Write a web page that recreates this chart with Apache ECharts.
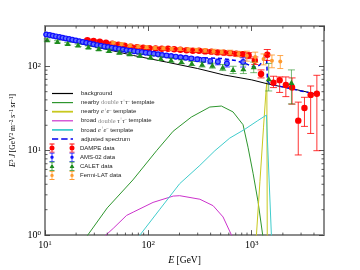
<!DOCTYPE html>
<html><head><meta charset="utf-8">
<script src="https://cdn.jsdelivr.net/npm/echarts@6/dist/echarts.min.js"></script>
<style>html,body{margin:0;padding:0;background:#fff}#c{width:360px;height:270px}</style>
</head><body><div id="c"></div><script>
// ---------- axis limits & ticks ----------
const X_MIN = 10, X_MAX = 5000, Y_MIN = 1, Y_MAX = 300;
const xMinor = [20,30,40,50,60,70,80,90,200,300,400,500,600,700,800,900,2000,3000,4000];
const yMinor = [2,3,4,5,6,7,8,9,20,30,40,50,60,70,80,90,200];

// ---------- model curves ----------
const bgE = [10, 20, 40, 72, 150, 300, 536, 1000, 1493, 2500, 4500];
const bgY = [228, 190, 158, 134, 112, 94, 79, 69, 61, 54, 46];

const nearTauE = [20, 25.9, 40, 70.8, 120, 173.6, 260, 393, 509, 659, 824, 920, 1030, 1150, 1276, 1400];
const nearTauY = [0.6, 1.0, 2.1, 4.5, 10, 17.0, 25, 32.9, 33.8, 28.8, 20.3, 11, 5.4, 2.5, 1.0, 0.3];

const nearEeE = [1050, 1110, 1200, 1300, 1380, 1400, 1412, 1430];
const nearEeY = [0.5, 1.0, 4.3, 19, 55, 64, 1.0, 0.5];

const broadTauE = [30, 38.8, 45.7, 61.5, 71.3, 111, 174, 201, 315, 423, 528, 637, 700];
const broadTauY = [0.6, 1.0, 1.2, 1.71, 1.87, 2.44, 2.9, 2.93, 2.66, 2.23, 1.64, 1.0, 0.75];

const broadEeE = [70, 82.8, 129, 201, 315, 440, 613, 855, 1143, 1387, 1549, 1600];
const broadEeY = [0.75, 1.0, 2.02, 4.07, 6.7, 10, 14.1, 17.9, 22.7, 26.4, 1.0, 0.5];

const adjE = [10, 20, 30, 50, 100, 200, 300, 500, 700, 900, 1000, 1100, 1200, 1300, 1387, 1420, 1500, 2000, 3000, 4500];
const adjY = [234, 194, 174, 154, 138, 129, 127, 124, 117, 106, 100, 97, 104, 118, 141, 67, 61, 57, 51, 46];

// ---------- data ----------
const dampeE = [25.7,29.5,33.9,38.9,44.7,51.3,58.9,67.6,77.6,89.1,102.3,117.5,134.9,154.9,177.8,204.2,234.4,269.2,309.0,354.8,407.4,467.7,537.0,616.6,707.9,812.8,933.3,1071,1230,1413,1622,1862,2138,2455,2818,3236,3715,4266];
const dampeY = [204,199,195,190,185,180,175,171,168,166,164,163,161,161,159,157,155,153,153,150,149,146,145,143,141,139,134,117,81,137,64,68.5,60,56,22.7,32,45.8,47.3];
const dampeLo = [198,193,189,184,179,174,169,165,162,160,158,157,155,155,153,151,149,147,146,143,142,139,137,135,132,129,123,105,72.8,117,55.9,49,43.7,35.6,8.9,19.4,16,10];
const dampeHi = [210,205,201,196,191,186,181,177,174,172,170,169,167,167,165,163,161,159,160,157,156,153,153,151,150,149,145,129,90.6,158,76.2,74.8,74.8,72.8,37.6,42.9,58.4,78.2];

const amsE = [10.3,11.1,11.9,12.8,13.8,14.8,15.9,17.1,18.4,19.9,21.5,23.2,25.1,27.2,29.5,32.0,34.7,37.6,40.8,44.3,48.1,52.2,56.7,61.6,67.0,72.8,79.3,86.5,94.4,103,113,124,136,150,166,184,205,230,260,297,341,397,470,575,825];
const amsY = [238,234,230,226,222,218,214,210,206,202,198,194,190,186,182,178,175,172,169,166,163,160,158,155,153,151,149,147,145,143,141,139,136,134,132,130,128,126,124,121,119,115,113,108,112];
const amsErr = [3,3,3,3,3,3,3,3,3,3,3,3,3,3,3,3,3,3,3,3,3,3,3,3,3,3,3.5,3.5,3.5,4,4,4,4,4.5,4.5,5,5,5.5,6,6.5,7,8,9,10,14];

const calE = [10.5,13.2,16.6,20.9,26.3,33.1,41.6,52.4,66,83,105,132,166,209,263,331,416,524,660,830,1045,1459,2421];
const calY = [205,195,185,177,168,160,153,146,140,134,128,123,118,113,108,105,102,97,91,93,98,70.5,63.8];
const calLo = [199,189,179,171,162,154,147,140,134,128,122,117,112,107,102,98,95,89,82,82,84,51,35.8];
const calHi = [211,201,191,183,174,166,159,152,146,140,134,129,124,119,114,112,109,105,100,104,112,108,90.6];

const fermiE = [45.7,55.1,66.3,79.8,96.2,115.9,139.6,168.2,202.5,243.9,293.8,353.9,426.6,513,618,745,897,1081,1301,1567,1888];
const fermiY = [190,183,176,172,168,165,163,161,160,158,156,154,151,148,146,140,133,129,122,116,114];
const fermiErr = [6,6,6,6,6,6,6,6,6,7,7,7,8,8,9,10,18,18,18,20,20];

// ---------- names ----------
const N_BG = 'background';
const N_NT = 'nearby double tau+tau- template';
const N_NE = 'nearby e+e- template';
const N_BT = 'broad double tau+tau- template';
const N_BE = 'broad e+e- template';
const N_ADJ = 'adjusted spectrum';
const N_D = 'DAMPE data', N_A = 'AMS-02 data', N_C = 'CALET data', N_F = 'Fermi-LAT data';
const TT = '{m|τ}{p|+}{m|τ}{p|–}';
const EE = '{m|e}{p|+}{m|e}{p|–}';
const legendText = {};
legendText[N_BG] = 'background';
legendText[N_NT] = 'nearby {d|double} ' + TT + ' template';
legendText[N_NE] = 'nearby ' + EE + ' template';
legendText[N_BT] = 'broad {d|double} ' + TT + ' template';
legendText[N_BE] = 'broad ' + EE + ' template';
legendText[N_ADJ] = 'adjusted spectrum';
legendText[N_D] = N_D; legendText[N_A] = N_A; legendText[N_C] = N_C; legendText[N_F] = N_F;

const zip = (a, b) => a.map((v, i) => [v, b[i]]);

function errSeries(name, E, Y, lo, hi, color, marker, r, cap, barColor, fillColor) {
  return {
    type: 'custom', name, z: 5, clip: false,
    itemStyle: { color },
    data: E.map((e, i) => [e, Y[i], lo[i], hi[i]]),
    encode: { x: 0, y: 1 },
    renderItem: function (params, api) {
      const e = api.value(0);
      const p = api.coord([e, api.value(1)]);
      const pl = api.coord([e, api.value(2)]);
      const ph = api.coord([e, api.value(3)]);
      const st = { stroke: barColor, lineWidth: 1 };
      const ch = [
        { type: 'line', shape: { x1: p[0], y1: pl[1], x2: p[0], y2: ph[1] }, style: st },
        { type: 'line', shape: { x1: p[0] - cap, y1: pl[1], x2: p[0] + cap, y2: pl[1] }, style: st },
        { type: 'line', shape: { x1: p[0] - cap, y1: ph[1], x2: p[0] + cap, y2: ph[1] }, style: st }
      ];
      if (marker === 'tri') {
        ch.push({ type: 'polygon', shape: { points: [[p[0], p[1] - r], [p[0] + r, p[1] + r * 0.75], [p[0] - r, p[1] + r * 0.75]] }, style: { fill: color } });
      } else if (marker === 'ring') {
        ch.push({ type: 'circle', shape: { cx: p[0], cy: p[1], r }, style: { fill: fillColor, stroke: color, lineWidth: 1.2 } });
      } else {
        ch.push({ type: 'circle', shape: { cx: p[0], cy: p[1], r }, style: { fill: color } });
      }
      return { type: 'group', children: ch };
    }
  };
}
const symErr = (Y, err, sign) => Y.map((v, i) => v + sign * err[i]);

function lineSeries(name, E, Y, color, width, type, z) {
  return {
    type: 'line', name, data: zip(E, Y), showSymbol: false, symbol: 'none',
    smooth: false, clip: true, z: z || 3, silent: true,
    lineStyle: { color, width, type: type || 'solid' }, itemStyle: { color }
  };
}

const tickStyle = { stroke: '#333', lineWidth: 0.8 };
const xTicks = {
  type: 'custom', silent: true, z: 10, clip: false,
  data: xMinor.map(v => [v, Y_MIN]), encode: { x: 0, y: 1 },
  renderItem: function (params, api) {
    const b = api.coord([api.value(0), Y_MIN]);
    const t = api.coord([api.value(0), Y_MAX]);
    return { type: 'group', children: [
      { type: 'line', shape: { x1: b[0], y1: b[1], x2: b[0], y2: b[1] - 2.5 }, style: tickStyle },
      { type: 'line', shape: { x1: t[0], y1: t[1], x2: t[0], y2: t[1] + 2.5 }, style: tickStyle }
    ]};
  }
};
const yTicks = {
  type: 'custom', silent: true, z: 10, clip: false,
  data: yMinor.map(v => [X_MIN, v]), encode: { x: 0, y: 1 },
  renderItem: function (params, api) {
    const l = api.coord([X_MIN, api.value(1)]);
    const r = api.coord([X_MAX, api.value(1)]);
    return { type: 'group', children: [
      { type: 'line', shape: { x1: l[0], y1: l[1], x2: l[0] + 2.5, y2: l[1] }, style: tickStyle },
      { type: 'line', shape: { x1: r[0], y1: r[1], x2: r[0] - 2.5, y2: r[1] }, style: tickStyle }
    ]};
  }
};

const SERIF = '"Liberation Serif", serif';
const SANS = '"Liberation Sans", Arial, sans-serif';
const supRich = {
  s: { fontSize: 7, fontFamily: SERIF, verticalAlign: 'top', color: '#000' },
  i: { fontStyle: 'italic', fontFamily: SERIF, fontSize: 10, color: '#000' }
};
const ySupRich = {
  s: { fontSize: 5.5, fontFamily: SERIF, verticalAlign: 'top', color: '#000' },
  i: { fontStyle: 'italic', fontFamily: SERIF, fontSize: 8, color: '#000' }
};
const powLabel = v => '10{s|' + Math.round(Math.log10(v)) + '}';
const axisLineStyle = { color: '#8c8c8c', width: 2 };
const majorTick = { inside: true, length: 5, lineStyle: { color: '#333', width: 0.8 } };

function xAx(pos, main) {
  return {
    type: 'log', logBase: 10, min: X_MIN, max: X_MAX, position: pos, gridIndex: 0,
    axisLine: { show: true, onZero: false, lineStyle: axisLineStyle },
    axisTick: majorTick, splitLine: { show: false }, minorTick: { show: false },
    axisLabel: main ? { show: true, formatter: powLabel, margin: 5, showMaxLabel: false, showMinLabel: true,
      fontFamily: SERIF, fontSize: 10, color: '#000', rich: supRich } : { show: false },
    name: main ? '{i|E} [GeV]' : '', nameLocation: 'middle', nameGap: 16,
    nameTextStyle: { fontFamily: SERIF, fontSize: 9.5, color: '#000', rich: supRich }
  };
}
function yAx(pos, main) {
  return {
    type: 'log', logBase: 10, min: Y_MIN, max: Y_MAX, position: pos, gridIndex: 0,
    axisLine: { show: true, onZero: false, lineStyle: axisLineStyle },
    axisTick: majorTick, splitLine: { show: false }, minorTick: { show: false },
    axisLabel: main ? { show: true, formatter: powLabel, margin: 4, showMaxLabel: false, showMinLabel: true,
      fontFamily: SERIF, fontSize: 10, color: '#000', rich: supRich } : { show: false },
    name: main ? '{i|E}{s|3} {i|J} [GeV{s|2} m{s|–2} s{s|–1} sr{s|–1}]' : '',
    nameLocation: 'middle', nameGap: 14,
    nameTextStyle: { fontFamily: SERIF, fontSize: 7.5, color: '#000', rich: ySupRich }
  };
}

const legRich = {
  d: { fontFamily: SERIF, fontSize: 6.5, color: '#888' },
  m: { fontFamily: SERIF, fontStyle: 'italic', fontSize: 6.5, color: '#333' },
  p: { fontFamily: SERIF, fontSize: 4.5, color: '#333', verticalAlign: 'top' }
};
function ebIcon(shape) {
  // two error-bar glyphs in a 260 x 90 box
  const one = (cx) => {
    let s = `M${cx-25},0 H${cx+25} V8 H${cx-25} Z M${cx-4},0 H${cx+4} V90 H${cx-4} Z M${cx-25},82 H${cx+25} V90 H${cx-25} Z `;
    if (shape === 'tri') s += `M${cx},18 L${cx+24},62 L${cx-24},62 Z `;
    else if (shape === 'small') s += `M${cx+17},45 A17,17 0 1,1 ${cx-17},45 A17,17 0 1,1 ${cx+17},45 Z `;
    else s += `M${cx+25},45 A25,25 0 1,1 ${cx-25},45 A25,25 0 1,1 ${cx+25},45 Z `;
    return s;
  };
  return 'path://' + one(30) + one(230);
}
const solidIcon = 'path://M0,0 H210 V12 H0 Z';
const thickIcon = 'path://M0,0 H210 V18 H0 Z';
const dashIcon = 'path://M0,0 H62 V15 H0 Z M92,0 H156 V15 H92 Z M186,0 H210 V15 H186 Z';

const legendCommon = {
  orient: 'vertical', padding: 0, itemGap: 0.1, itemHeight: 9, selectedMode: false,
  symbolKeepAspect: true,
  formatter: n => legendText[n],
  textStyle: { fontFamily: SANS, fontSize: 6, color: '#222', lineHeight: 9, rich: legRich }
};

const option = {
  animation: false,
  backgroundColor: '#fff',
  grid: { left: 45, right: 36, top: 26, bottom: 28, containLabel: false },
  xAxis: [xAx('bottom', true), xAx('top', false)],
  yAxis: [yAx('left', true), yAx('right', false)],
  legend: [
    Object.assign({}, legendCommon, { left: 52, top: 89, itemWidth: 21,
      textStyle: Object.assign({}, legendCommon.textStyle, { padding: [0, 0, 0, 3] }),
      data: [
        { name: N_BG, icon: solidIcon },
        { name: N_NT, icon: solidIcon },
        { name: N_NE, icon: thickIcon },
        { name: N_BT, icon: solidIcon },
        { name: N_BE, icon: thickIcon },
        { name: N_ADJ, icon: dashIcon }
      ] }),
    Object.assign({}, legendCommon, { left: 49.5, top: 143.6, itemWidth: 26,
      data: [
        { name: N_D, icon: ebIcon('circle') },
        { name: N_A, icon: ebIcon('small') },
        { name: N_C, icon: ebIcon('tri') },
        { name: N_F, icon: ebIcon('small') }
      ] })
  ],
  series: [
    lineSeries(N_NT, nearTauE, nearTauY, '#2e962e', 1),
    lineSeries(N_NE, nearEeE, nearEeY, '#c8c81e', 1),
    lineSeries(N_BT, broadTauE, broadTauY, '#cc33cc', 1),
    lineSeries(N_BE, broadEeE, broadEeY, '#40cccc', 1),
    lineSeries(N_BG, bgE, bgY, '#000', 1, 'solid', 4),
    lineSeries(N_ADJ, adjE, adjY, '#0000ee', 1.5, [4, 3], 4),
    errSeries(N_D, dampeE, dampeY, dampeLo, dampeHi, '#ff0000', 'circle', 3.2, 3.5, 'rgba(255,0,0,0.8)'),
    errSeries(N_A, amsE, amsY, symErr(amsY, amsErr, -1), symErr(amsY, amsErr, 1), '#1010ff', 'ring', 2.4, 3, 'rgba(16,16,255,0.75)', '#6070ff'),
    errSeries(N_C, calE, calY, calLo, calHi, '#1e8c1e', 'tri', 3, 3.5, 'rgba(30,140,30,0.6)'),
    errSeries(N_F, fermiE, fermiY, symErr(fermiY, fermiErr, -1), symErr(fermiY, fermiErr, 1), '#ff9a2e', 'circle', 2, 3, 'rgba(255,154,46,0.85)'),
    xTicks, yTicks
  ]
};
const chart = echarts.init(document.getElementById('c'), null, { renderer: 'canvas' });
chart.setOption(option);
</script></body></html>
